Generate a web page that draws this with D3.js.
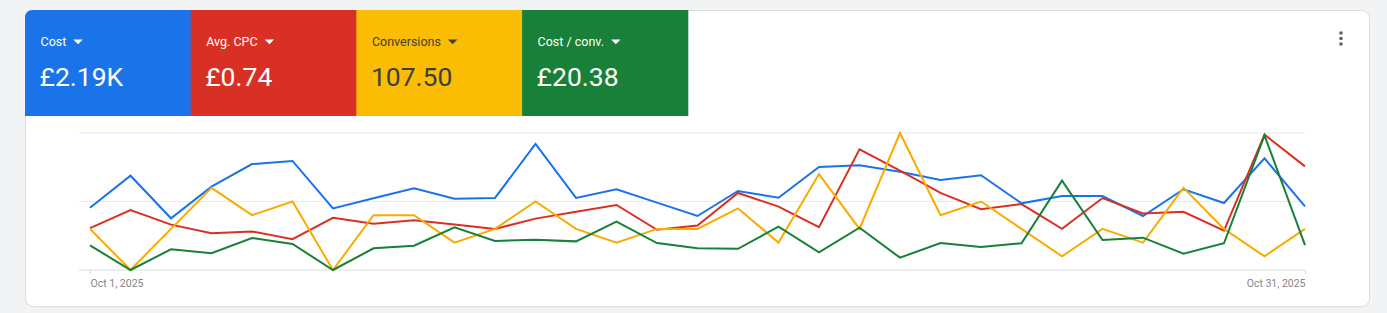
<!DOCTYPE html>
<html>
<head>
<meta charset="utf-8">
<script src="https://cdn.jsdelivr.net/npm/d3@7"></script>
<style>
  html, body { margin: 0; padding: 0; background: #f1f3f4; }
  svg { display: block; font-family: Roboto, "Noto Sans", sans-serif; }
</style>
</head>
<body>
<svg id="svg" width="1387" height="313"></svg>
<script>
"use strict";

// daily values, Oct 1 .. Oct 31
const days = d3.range(1, 32);
const cost = [54.6, 82.6, 45.3, 73.0, 92.8, 95.5, 54.0, 62.8, 71.6, 62.5, 63.1, 110.4, 63.1, 70.7, 59.0, 47.3,
    69.2, 63.3, 90.2, 91.7, 86.1, 78.8, 83.0, 58.4, 64.8, 64.8, 47.3, 70.7, 58.7, 97.8, 55.8];
const avgCpc = [0.49, 0.70, 0.53, 0.43, 0.45, 0.36, 0.61, 0.54, 0.58, 0.53, 0.48, 0.60, 0.68, 0.76, 0.47, 0.52,
    0.90, 0.74, 0.50, 1.41, 1.16, 0.90, 0.71, 0.77, 0.48, 0.84, 0.66, 0.68, 0.46, 1.58, 1.21];
const conversions = [3, 0, 3, 6, 4, 5, 0, 4, 4, 2, 3, 5, 3, 2, 3, 3, 4.5, 2, 7, 3, 10, 4, 5, 3, 1, 3, 2, 6, 3, 1, 3];
const costPerConv = [18.0, 0, 15.1, 12.2, 23.4, 19.0, 0, 15.8, 17.7, 31.2, 21.2, 22.1, 20.9, 35.3, 19.7, 15.8,
    15.5, 31.6, 12.9, 30.9, 9.0, 19.7, 16.8, 19.5, 65.2, 21.9, 23.6, 11.9, 19.5, 98.3, 18.2];

const metricNames = ["Cost", "Avg. CPC", "Conversions", "Cost / conv."];
const metricTotals = ["£2.19K", "£0.74", "107.50", "£20.38"];
const tileColors = ["#1a73e8", "#d93025", "#fbbc04", "#188038"];
const lineColors = ["#1a73e8", "#d93025", "#f9ab00", "#188038"];
const tileText = ["#ffffff", "#ffffff", "#3c4043", "#ffffff"];
const axisMax = [120, 1.6, 10, 100];
const xTickLabels = ["Oct 1, 2025", "Oct 31, 2025"];

const series = [cost, avgCpc, conversions, costPerConv];

var svg = d3.select("svg");

// card
svg.append("rect")
    .attr("x", 25.5).attr("y", 10.5)
    .attr("width", 1344).attr("height", 296)
    .attr("rx", 8)
    .attr("fill", "#fff")
    .attr("stroke", "#dadce0");

// metric tiles
var tileW = 165.7;
var tiles = svg.append("g")
    .selectAll("g")
    .data(metricNames)
    .enter()
    .append("g")
        .attr("transform", (d, i) => "translate(" + (25 + i * tileW) + ",10)");

tiles.append("path")
    .attr("d", (d, i) => i == 0
        ? "M0,8 Q0,0 8,0 H" + (tileW + 0.5) + " V106 H0 Z"
        : "M0,0 H" + (tileW + 0.5) + " V106 H0 Z")
    .attr("fill", (d, i) => tileColors[i]);

tiles.append("text")
    .attr("x", 15.5)
    .attr("y", 35.5)
    .attr("font-size", 12.5)
    .attr("fill", (d, i) => tileText[i])
    .text(d => d);

tiles.append("path")
    .attr("d", function(d) {
        var w = this.parentNode.querySelector("text").getComputedTextLength();
        var x = 15.5 + w + 7;
        return "M" + x + ",29.5 h9.5 l-4.75,4.75 Z";
    })
    .attr("fill", (d, i) => tileText[i]);

tiles.append("text")
    .attr("x", 14.5)
    .attr("y", 75.5)
    .attr("font-size", 26.5)
    .attr("fill", (d, i) => tileText[i])
    .text((d, i) => metricTotals[i]);

// kebab menu
svg.append("g")
    .selectAll("circle")
    .data([33, 38.5, 44])
    .enter()
    .append("circle")
        .attr("cx", 1341)
        .attr("cy", d => d)
        .attr("r", 1.8)
        .attr("fill", "#5f6368");

// chart
var x = d3.scaleLinear().domain([1, 31]).range([90, 1305]);
var yRange = [270, 133];

var grid = svg.append("g");
grid.selectAll("line")
    .data([0, 0.5, 1])
    .enter()
    .append("line")
        .attr("x1", 79).attr("x2", 1305)
        .attr("y1", d => yRange[0] + (yRange[1] - yRange[0]) * d)
        .attr("y2", d => yRange[0] + (yRange[1] - yRange[0]) * d)
        .attr("stroke", (d, i) => i == 0 ? "#dadce0" : "#e8eaed")
        .attr("stroke-width", 1.2);

var xAxis = svg.append("g")
    .attr("transform", "translate(0,270)")
    .call(d3.axisBottom(x).tickValues([1, 31]).tickSize(4).tickFormat((d, i) => xTickLabels[i]));
xAxis.select(".domain").remove();
xAxis.selectAll(".tick line").attr("stroke", "#dadce0");
xAxis.selectAll(".tick text")
    .attr("fill", "#80868b")
    .attr("font-size", 10.5)
    .attr("font-family", "Roboto, sans-serif")
    .attr("y", 10)
    .attr("text-anchor", (d, i) => i == 0 ? "start" : "end");

var lines = svg.append("g");
series.forEach(function(values, k) {
    var y = d3.scaleLinear().domain([0, axisMax[k]]).range(yRange);
    var line = d3.line()
        .x((d, i) => x(days[i]))
        .y(d => y(d));
    lines.append("path")
        .datum(values)
        .attr("fill", "none")
        .attr("stroke", lineColors[k])
        .attr("stroke-width", 2)
        .attr("stroke-linejoin", "miter")
        .attr("d", line);
});
</script>
</body>
</html>
